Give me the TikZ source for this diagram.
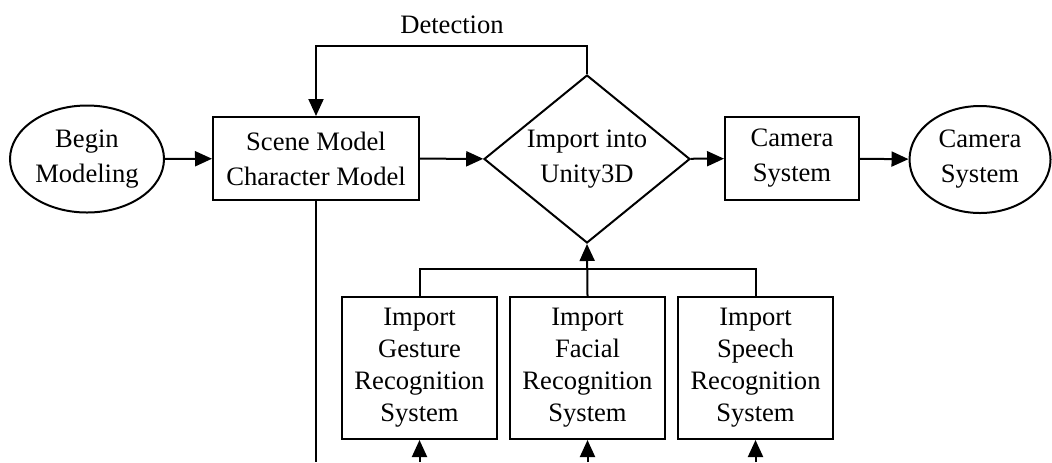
\documentclass[tikz,border=0pt]{standalone}
\usepackage{fontspec}
\setmainfont{Liberation Serif}
\usepackage{tikz}
\usetikzlibrary{arrows.meta, shapes.geometric}

\tikzset{
  flowline/.style={line width=1pt},
  flowarrow/.style={line width=1pt, -{Triangle[length=8.5pt,width=7.5pt]}},
  terminal/.style={draw, ellipse, line width=1pt, inner sep=0pt, align=center,
    minimum width=77pt, minimum height=53.5pt, font=\fontsize{13.3}{17.5}\selectfont},
  process/.style={draw, rectangle, line width=1pt, inner sep=0pt, align=center,
    minimum height=41.5pt, font=\fontsize{13.3}{17.5}\selectfont},
  decision/.style={draw, diamond, line width=1pt, inner sep=0pt, align=center,
    aspect=1.226, minimum width=103pt, minimum height=84pt, font=\fontsize{13.3}{17.5}\selectfont},
  recog/.style={draw, rectangle, line width=1pt, inner sep=0pt, align=center,
    minimum width=77.5pt, minimum height=71pt, font=\fontsize{13.3}{16}\selectfont}
}

\begin{document}
\begin{tikzpicture}[x=0.5pt,y=-0.5pt]
\useasboundingbox (0,0) rectangle (1052,462);

% main row
\node[terminal] (begin) at (87,159) {Begin\\Modeling};
\node[process, minimum width=103pt] (scene) at (316,158.5) {Scene Model\\Character Model};
\node[decision] (unity) at (587,159) {Import into\\Unity3D};
\node[process, minimum width=67pt] (camera) at (792,158.5) {Camera\\System};
\node[terminal, minimum width=70.5pt] (cameraend) at (980,159.5) {Camera\\System};

\draw[flowarrow] (begin) -- (scene);
\draw[flowarrow] (scene) -- (unity);
\draw[flowarrow] (unity) -- (camera);
\draw[flowarrow] (camera) -- (cameraend);

% detection loop
\draw[flowarrow] (unity.north) -- ++(0,-28) -| (scene.north);
\node[font=\fontsize{13.3}{17.5}\selectfont] (detection) at (452,25) {Detection};

% recognition systems
\node[recog] (gesture) at (419.5,368) {Import\\Gesture\\Recognition\\System};
\node[recog] (facial) at (587.5,368) {Import\\Facial\\Recognition\\System};
\node[recog] (speech) at (755.5,368) {Import\\Speech\\Recognition\\System};

\coordinate (bus) at (587,269);
\coordinate (bottom) at (0,462);
\draw[flowline] (gesture.north) |- (bus) -| (speech.north);
\draw[flowarrow] (facial.north) -- (unity.south);
\draw[line width=1.3pt] (scene.south) -- (scene.south |- bottom);
\foreach \sys in {gesture,facial,speech}
  \draw[flowarrow] (\sys.south |- bottom) -- (\sys.south);
\end{tikzpicture}
\end{document}
